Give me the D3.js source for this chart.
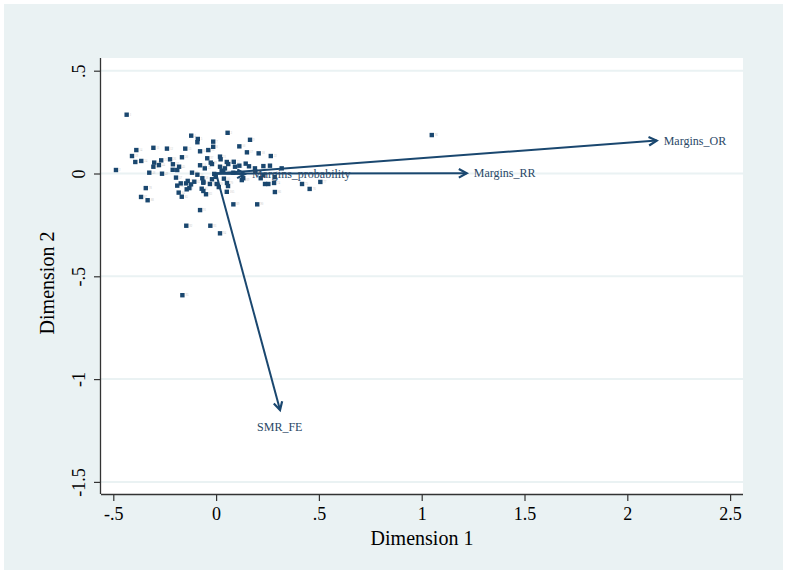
<!DOCTYPE html>
<html>
<head>
<meta charset="utf-8">
<script src="https://cdn.jsdelivr.net/npm/d3@7"></script>
<style>
  html, body { margin: 0; padding: 0; background: #ffffff; }
  svg { display: block; }
</style>
</head>
<body>
<svg id="chart" width="787" height="575"></svg>
<script>
// ---- data ----
const dim1 = [-0.435,-0.487,0.056,-0.121,-0.089,-0.091,-0.014,-0.014,0.165,0.113,
  -0.305,-0.239,-0.150,-0.388,-0.038,-0.078,0.150,0.207,-0.409,-0.166,
  0.019,0.266,-0.393,-0.364,-0.267,-0.224,-0.210,-0.301,-0.026,-0.020,
  0.052,0.059,0.086,-0.078,-0.055,0.019,0.144,0.160,0.189,0.230,
  0.262,0.319,-0.305,-0.278,-0.180,-0.189,-0.211,-0.325,-0.263,-0.117,
  -0.091,-0.009,0.027,0.084,0.191,0.230,-0.195,-0.067,-0.020,0.038,
  -0.138,-0.106,-0.062,-0.030,-0.146,-0.189,-0.122,0.003,0.013,0.053,
  0.058,0.238,0.254,0.282,0.418,0.455,0.507,-0.342,-0.143,-0.130,
  -0.070,-0.062,-0.049,-0.182,-0.167,0.286,-0.365,-0.333,0.084,0.200,
  -0.078,-0.145,-0.028,0.019,-0.164,1.049,
  -0.043,0.022,0.113,-0.002,0.035,0.043,0.092,0.132,0.052,-0.062,
  0.217,0.285,0.125,-0.172];
const dim2 = [0.286,0.017,0.198,0.184,0.168,0.152,0.155,0.130,0.164,0.132,
  0.125,0.121,0.121,0.114,0.114,0.108,0.103,0.098,0.085,0.079,
  0.082,0.085,0.056,0.061,0.064,0.069,0.045,0.053,0.053,0.046,
  0.056,0.046,0.057,0.040,0.025,0.033,0.048,0.035,0.025,0.036,
  0.038,0.025,0.033,0.041,0.033,0.017,0.018,0.004,-0.001,0.004,
  -0.006,-0.002,0.014,0.004,0.009,-0.007,-0.020,-0.023,-0.028,-0.025,
  -0.036,-0.040,-0.045,-0.051,-0.048,-0.059,-0.053,-0.051,-0.066,-0.046,
  -0.061,-0.051,-0.051,-0.046,-0.051,-0.075,-0.041,-0.071,-0.077,-0.071,
  -0.074,-0.085,-0.101,-0.093,-0.113,-0.090,-0.114,-0.130,-0.150,-0.150,
  -0.178,-0.254,-0.254,-0.291,-0.592,0.187,
  0.074,0.069,0.038,-0.016,0.009,0.025,0.033,-0.023,-0.089,-0.040,
  -0.023,-0.018,-0.032,-0.048];

const varNames = ["Margins_OR", "Margins_RR", "Margins_probability", "SMR_FE"];
const varDim1  = [2.143, 1.219, 0.141, 0.311];
const varDim2  = [0.160, 0.001, -0.002, -1.150];

const xTicks = [-0.5, 0, 0.5, 1, 1.5, 2, 2.5];
const yTicks = [0.5, 0, -0.5, -1, -1.5];
const tickLabel = v => String(v).replace(/^(-?)0\./, "$1.");

const xTitle = "Dimension 1";
const yTitle = "Dimension 2";

// ---- layout ----
const svg = d3.select("#chart");
const navy = "#1a476f";
const bgCol = "#eaf2f3";
const serif = "'Liberation Serif','Times New Roman',serif";

const plot = { left: 101, right: 743, top: 58, bottom: 494 };

const x = d3.scaleLinear().domain([-0.5598, 2.5627]).range([plot.left, plot.right]);
const y = d3.scaleLinear().domain([-1.5589, 0.5618]).range([plot.bottom, plot.top]);

// outer background
svg.append("rect").attr("x", 4).attr("y", 4).attr("width", 779).attr("height", 566).attr("fill", bgCol);
// plot region
svg.append("rect").attr("x", plot.left).attr("y", plot.top)
  .attr("width", plot.right - plot.left).attr("height", plot.bottom - plot.top).attr("fill", "#ffffff");

// gridlines
svg.append("g").selectAll("line").data(yTicks).join("line")
  .attr("x1", plot.left).attr("x2", plot.right)
  .attr("y1", d => y(d)).attr("y2", d => y(d))
  .attr("stroke", bgCol).attr("stroke-width", 2);

// x axis
const xAxis = svg.append("g").attr("transform", `translate(0,${plot.bottom})`)
  .call(d3.axisBottom(x).tickValues(xTicks).tickFormat(tickLabel).tickSize(7).tickPadding(6));
xAxis.select(".domain").attr("d", `M${plot.left},0.5H${plot.right}`).attr("stroke", "#333").attr("stroke-width", 1.3);
xAxis.selectAll(".tick line").attr("stroke", "#333").attr("stroke-width", 1.2);
xAxis.selectAll(".tick text").attr("font-family", serif).attr("font-size", 18).attr("fill", "#000");

// y axis
const yAxis = svg.append("g").attr("transform", `translate(${plot.left},0)`)
  .call(d3.axisLeft(y).tickValues(yTicks).tickFormat(tickLabel).tickSize(7).tickPadding(0));
yAxis.select(".domain").attr("d", `M-0.5,${plot.top}V${plot.bottom}`).attr("stroke", "#333").attr("stroke-width", 1.3);
yAxis.selectAll(".tick line").attr("stroke", "#333").attr("stroke-width", 1.2);
yAxis.selectAll(".tick text")
  .attr("font-family", serif).attr("font-size", 18).attr("fill", "#000")
  .attr("x", null)
  .attr("text-anchor", "middle")
  .attr("transform", "translate(-22,0) rotate(-90)")
  .attr("dy", "0.35em");

// axis titles
svg.append("text").attr("x", (plot.left + plot.right) / 2).attr("y", 545)
  .attr("text-anchor", "middle").attr("font-family", serif).attr("font-size", 20)
  .attr("fill", "#000").text(xTitle);
svg.append("text").attr("transform", `translate(54,${(plot.top + plot.bottom) / 2 + 7}) rotate(-90)`)
  .attr("text-anchor", "middle").attr("font-family", serif).attr("font-size", 20)
  .attr("fill", "#000").text(yTitle);

// observation points
const pts = dim1.map((d, i) => ({ d1: d, d2: dim2[i], id: i + 1 }));
const gp = svg.append("g");
// tiny observation labels: skip those hidden under the variable label or colliding with another
const probBox = { x0: x(0.141) - 3, x1: x(0.141) + 115, y0: y(0) - 11, y1: y(0) + 6 };
const placed = [];
const lblPts = pts.filter(d => {
  const px = x(d.d1) + 3, py = y(d.d2) + 1;
  if (px > probBox.x0 && px < probBox.x1 && py > probBox.y0 && py < probBox.y1) return false;
  const w = String(d.id).length * 1.6 + 0.5;
  const b = { x0: px - 0.5, x1: px + w, y0: py - 3, y1: py + 1 };
  if (placed.some(p => b.x0 < p.x1 && b.x1 > p.x0 && b.y0 < p.y1 && b.y1 > p.y0)) return false;
  placed.push(b);
  return true;
});
gp.selectAll("text").data(lblPts).join("text")
  .attr("x", d => x(d.d1) + 3).attr("y", d => y(d.d2) + 1)
  .attr("font-family", serif).attr("font-size", 3).attr("fill", "#c9c9c9")
  .text(d => d.id);
gp.selectAll("rect").data(pts).join("rect")
  .attr("x", d => x(d.d1) - 2.2).attr("y", d => y(d.d2) - 2.2)
  .attr("width", 4.4).attr("height", 4.4).attr("fill", navy);

// variable arrows
const vars = varNames.map((n, i) => ({ name: n, d1: varDim1[i], d2: varDim2[i] }));
const ga = svg.append("g");
vars.forEach(v => {
  const x0 = x(0), y0 = y(0), x1 = x(v.d1), y1 = y(v.d2);
  const ang = Math.atan2(y1 - y0, x1 - x0);
  const hl = 9, ha = 0.5;
  ga.append("line").attr("x1", x0).attr("y1", y0).attr("x2", x1).attr("y2", y1)
    .attr("stroke", navy).attr("stroke-width", 2);
  ga.append("path")
    .attr("d", `M${x1 - hl * Math.cos(ang - ha)},${y1 - hl * Math.sin(ang - ha)}L${x1},${y1}L${x1 - hl * Math.cos(ang + ha)},${y1 - hl * Math.sin(ang + ha)}`)
    .attr("fill", "none").attr("stroke", navy).attr("stroke-width", 2.2);
});
// labels
ga.selectAll("text").data(vars).join("text")
  .attr("x", d => d.name === "SMR_FE" ? x(d.d1) - 23 : x(d.d1) + 7)
  .attr("y", d => d.name === "SMR_FE" ? y(d.d2) + 21 : y(d.d2) + 4)
  .attr("font-family", serif).attr("font-size", 12).attr("fill", "#2a4866")
  .text(d => d.name);
</script>
</body>
</html>
